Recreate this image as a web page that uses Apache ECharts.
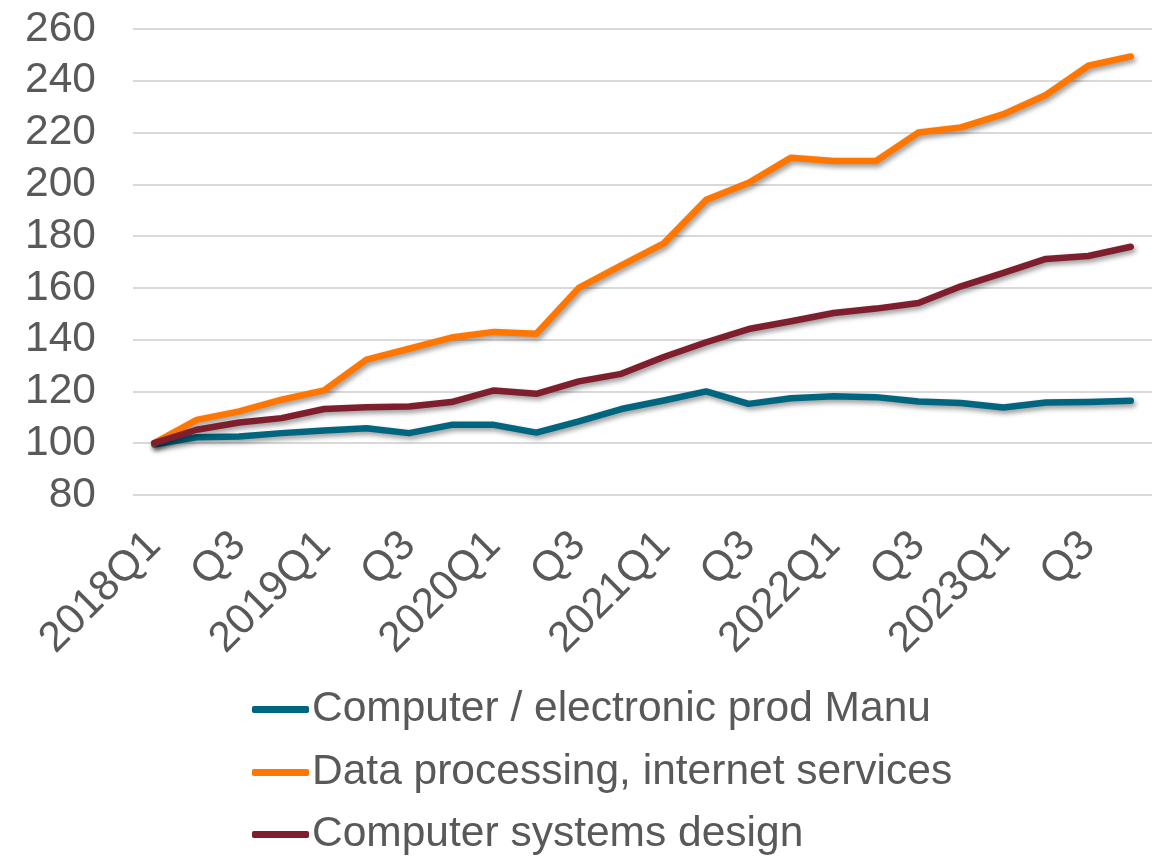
<!DOCTYPE html>
<html>
<head>
<meta charset="utf-8">
<script src="https://cdn.jsdelivr.net/npm/echarts@6/dist/echarts.min.js"></script>
<style>
  html, body { margin: 0; padding: 0; background: #ffffff; }
  #chart { width: 1165px; height: 856px; }
</style>
</head>
<body>
<div id="chart"></div>
<script>
// Quarterly index, 2018Q1 = 100
const quarters = [
  '2018Q1', 'Q2', 'Q3', 'Q4',
  '2019Q1', 'Q2', 'Q3', 'Q4',
  '2020Q1', 'Q2', 'Q3', 'Q4',
  '2021Q1', 'Q2', 'Q3', 'Q4',
  '2022Q1', 'Q2', 'Q3', 'Q4',
  '2023Q1', 'Q2', 'Q3', 'Q4'
];

const computerElectronicManu = [
  99.5, 102.3, 102.6, 103.9, 104.9, 105.8, 103.9, 107.1,
  107.1, 104.1, 108.4, 113.2, 116.5, 120.0, 115.2, 117.4,
  118.1, 117.8, 116.1, 115.5, 113.8, 115.7, 115.9, 116.4
];

const dataProcessingInternet = [
  100, 109.0, 112.3, 116.8, 120.4, 132.3, 136.5, 140.8,
  143.0, 142.3, 160.0, 168.7, 177.2, 194.0, 200.6, 210.3,
  209.0, 209.0, 220.0, 222.0, 227.1, 234.5, 245.8, 249.4
];

const computerSystemsDesign = [
  100, 105.2, 108.0, 109.7, 113.2, 113.9, 114.2, 115.9,
  120.4, 119.1, 123.9, 126.8, 133.3, 139.0, 144.1, 147.1,
  150.3, 152.0, 154.2, 160.6, 165.8, 171.2, 172.3, 175.9
];

const seriesNames = [
  'Computer / electronic prod Manu',
  'Data processing, internet services',
  'Computer systems design'
];

const seriesColors = ['#006680', '#ff7700', '#7f1f2e'];

const textColor = '#595959';
const fontFamily = '"Liberation Sans", Arial, sans-serif';
const fontSize = 42.5;

// One legend row per series, stacked vertically under the plot
const legendRowTops = [688, 751, 813];

function lineSeries(name, data, color) {
  return {
    name: name,
    type: 'line',
    data: data,
    symbol: 'none',
    showSymbol: false,
    color: color,
    lineStyle: {
      color: color,
      width: 6.5,
      cap: 'round',
      join: 'round',
      shadowColor: 'rgba(0,0,0,0.4)',
      shadowBlur: 5,
      shadowOffsetX: 2,
      shadowOffsetY: 3
    },
    emphasis: { disabled: true }
  };
}

function legendRow(name, top) {
  return {
    orient: 'horizontal',
    left: 252,
    top: top,
    padding: 0,
    icon: 'roundRect',
    itemWidth: 57,
    itemHeight: 7,
    data: [name],
    selectedMode: false,
    textStyle: {
      color: textColor,
      fontSize: fontSize,
      lineHeight: 40,
      fontFamily: fontFamily,
      padding: [0, 0, 0, -2]
    }
  };
}

const chart = echarts.init(document.getElementById('chart'), null, { renderer: 'canvas' });

chart.setOption({
  animation: false,
  backgroundColor: '#ffffff',
  textStyle: { fontFamily: fontFamily },
  grid: {
    left: 133,
    right: 13,
    top: 29,
    bottom: 361,
    containLabel: false,
    outerBoundsMode: 'none'
  },
  legend: seriesNames.map(function (name, i) {
    return legendRow(name, legendRowTops[i]);
  }),
  xAxis: {
    type: 'category',
    data: quarters,
    boundaryGap: true,
    axisLine: { show: false },
    axisTick: { show: false },
    axisLabel: {
      interval: 1,
      rotate: 45,
      margin: 44,
      color: textColor,
      fontSize: fontSize,
      fontFamily: fontFamily
    },
    splitLine: { show: false }
  },
  yAxis: {
    type: 'value',
    min: 80,
    max: 260,
    interval: 20,
    axisLine: { show: false },
    axisTick: { show: false },
    axisLabel: {
      margin: 37,
      color: textColor,
      fontSize: fontSize,
      fontFamily: fontFamily
    },
    splitLine: {
      show: true,
      lineStyle: { color: '#d9d9d9', width: 2 }
    }
  },
  series: [
    lineSeries(seriesNames[0], computerElectronicManu, seriesColors[0]),
    lineSeries(seriesNames[1], dataProcessingInternet, seriesColors[1]),
    lineSeries(seriesNames[2], computerSystemsDesign, seriesColors[2])
  ]
});
</script>
</body>
</html>
